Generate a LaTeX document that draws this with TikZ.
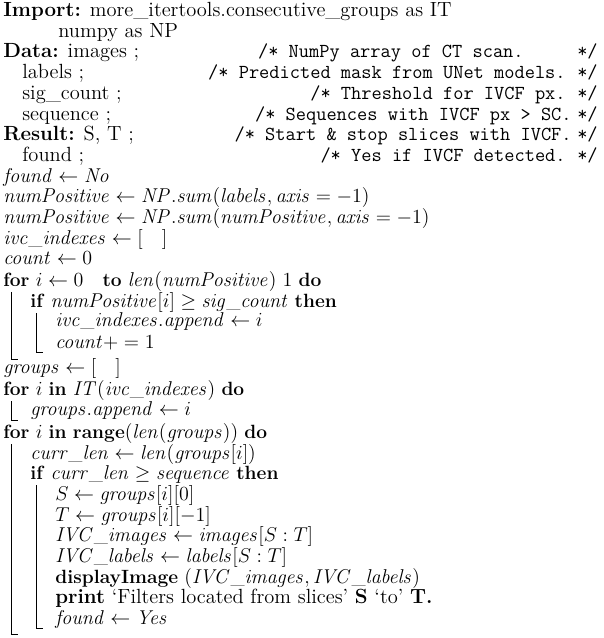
\documentclass[tikz,border=0pt]{standalone}
\begin{document}
\begin{tikzpicture}[x=0.6pt,y=-0.6pt,
  t/.style={anchor=base west,inner sep=0pt,font=\fontsize{11.5}{12}\selectfont},
  w/.style={t,font=\fontsize{12.3}{13}\selectfont},
  c/.style={anchor=base east,inner sep=0pt,font=\fontsize{11.9}{13}\ttfamily},
  bar/.style={line width=0.6pt}]
\useasboundingbox (0,0) rectangle (603,638);
\node[w] (l0) at (3,17) {\textbf{Import:} more\_itertools.consecutive\_groups as IT};
\node[w] (l1) at (58,38) {numpy as NP};
\node[w] (l2) at (3,58) {\textbf{Data:} images ;};
\node[w] (l3) at (22,79) {labels ;};
\node[w] (l4) at (22,100) {sig\_count ;};
\node[w] (l5) at (22,121) {sequence ;};
\node[w] (l6) at (3,141) {\textbf{Result:} S, T ;};
\node[w] (l7) at (22,162) {found ;};
\node[c] (c2) at (524,58) {/* NumPy array of CT scan.};
\node[c] (c3) at (566,79) {/* Predicted mask from UNet models.};
\node[c] (c4) at (566,100) {/* Threshold for IVCF px.};
\node[c] (c5) at (572,121) {/* Sequences with IVCF px > SC.};
\node[c] (c6) at (572,141) {/* Start \& stop slices with IVCF.};
\node[c] (c7) at (566,162) {/* Yes if IVCF detected.};
\foreach \yy/\nn in {58/e2,79/e3,100/e4,121/e5,141/e6,162/e7}
  \node[c] (\nn) at (598,\yy) {*/};
\node[t] (l8) at (3,183) {$\mathit{found} \leftarrow \mathit{No}$};
\node[t] (l9) at (3,203) {$\mathit{numPositive} \leftarrow \mathit{NP}.\mathit{sum}(\mathit{labels},\mathit{axis}=-1)$};
\node[t] (l10) at (3,224) {$\mathit{numPositive} \leftarrow \mathit{NP}.\mathit{sum}(\mathit{numPositive},\mathit{axis}=-1)$};
\node[t] (l11) at (3,245) {$\mathit{ivc\_indexes} \leftarrow [\quad]$};
\node[t] (l12) at (3,265) {$\mathit{count} \leftarrow 0$};
\node[t] (l13) at (3,286) {\textbf{for} $i \leftarrow 0$\quad\textbf{to} $\mathit{len}(\mathit{numPositive})\ 1$ \textbf{do}};
\node[t] (l14) at (30,307) {\textbf{if} $\mathit{numPositive}[i] \geq \mathit{sig\_count}$ \textbf{then}};
\node[t] (l15) at (55,327) {$\mathit{ivc\_indexes}.\mathit{append} \leftarrow i$};
\node[t] (l16) at (55,348) {$\mathit{count}+=1$};
\node[t] (l17) at (3,373) {$\mathit{groups} \leftarrow [\quad]$};
\node[t] (l18) at (3,395) {\textbf{for} $i$ \textbf{in} $\mathit{IT}(\mathit{ivc\_indexes})$ \textbf{do}};
\node[t] (l19) at (30,415) {$\mathit{groups}.\mathit{append} \leftarrow i$};
\node[t] (l20) at (3,438) {\textbf{for} $i$ \textbf{in} \textbf{range}$(\mathit{len}(\mathit{groups}))$ \textbf{do}};
\node[t] (l21) at (30,459) {$\mathit{curr\_len} \leftarrow \mathit{len}(\mathit{groups}[i])$};
\node[t] (l22) at (30,479) {\textbf{if} $\mathit{curr\_len} \geq \mathit{sequence}$ \textbf{then}};
\node[t] (l23) at (55,500) {$S \leftarrow \mathit{groups}[i][0]$};
\node[t] (l24) at (55,521) {$T \leftarrow \mathit{groups}[i][-1]$};
\node[t] (l25) at (55,541) {$\mathit{IVC\_images} \leftarrow \mathit{images}[S:T]$};
\node[t] (l26) at (55,562) {$\mathit{IVC\_labels} \leftarrow \mathit{labels}[S:T]$};
\node[t] (l27) at (55,583) {\textbf{displayImage} $(\mathit{IVC\_images},\mathit{IVC\_labels})$};
\node[w] (l28) at (55,603) {\textbf{print} `Filters located from slices' \textbf{S} `to' \textbf{T.}};
\node[t] (l29) at (55,624) {$\mathit{found} \leftarrow \mathit{Yes}$};
% block bars
\draw[bar] (11,292) -- (11,359) -- (18,359);
\draw[bar] (36,313) -- (36,352) -- (43,352);
\draw[bar] (11,401) -- (11,420) -- (18,420);
\draw[bar] (11,444) -- (11,634) -- (18,634);
\draw[bar] (36,485) -- (36,628) -- (43,628);
\end{tikzpicture}
\end{document}
